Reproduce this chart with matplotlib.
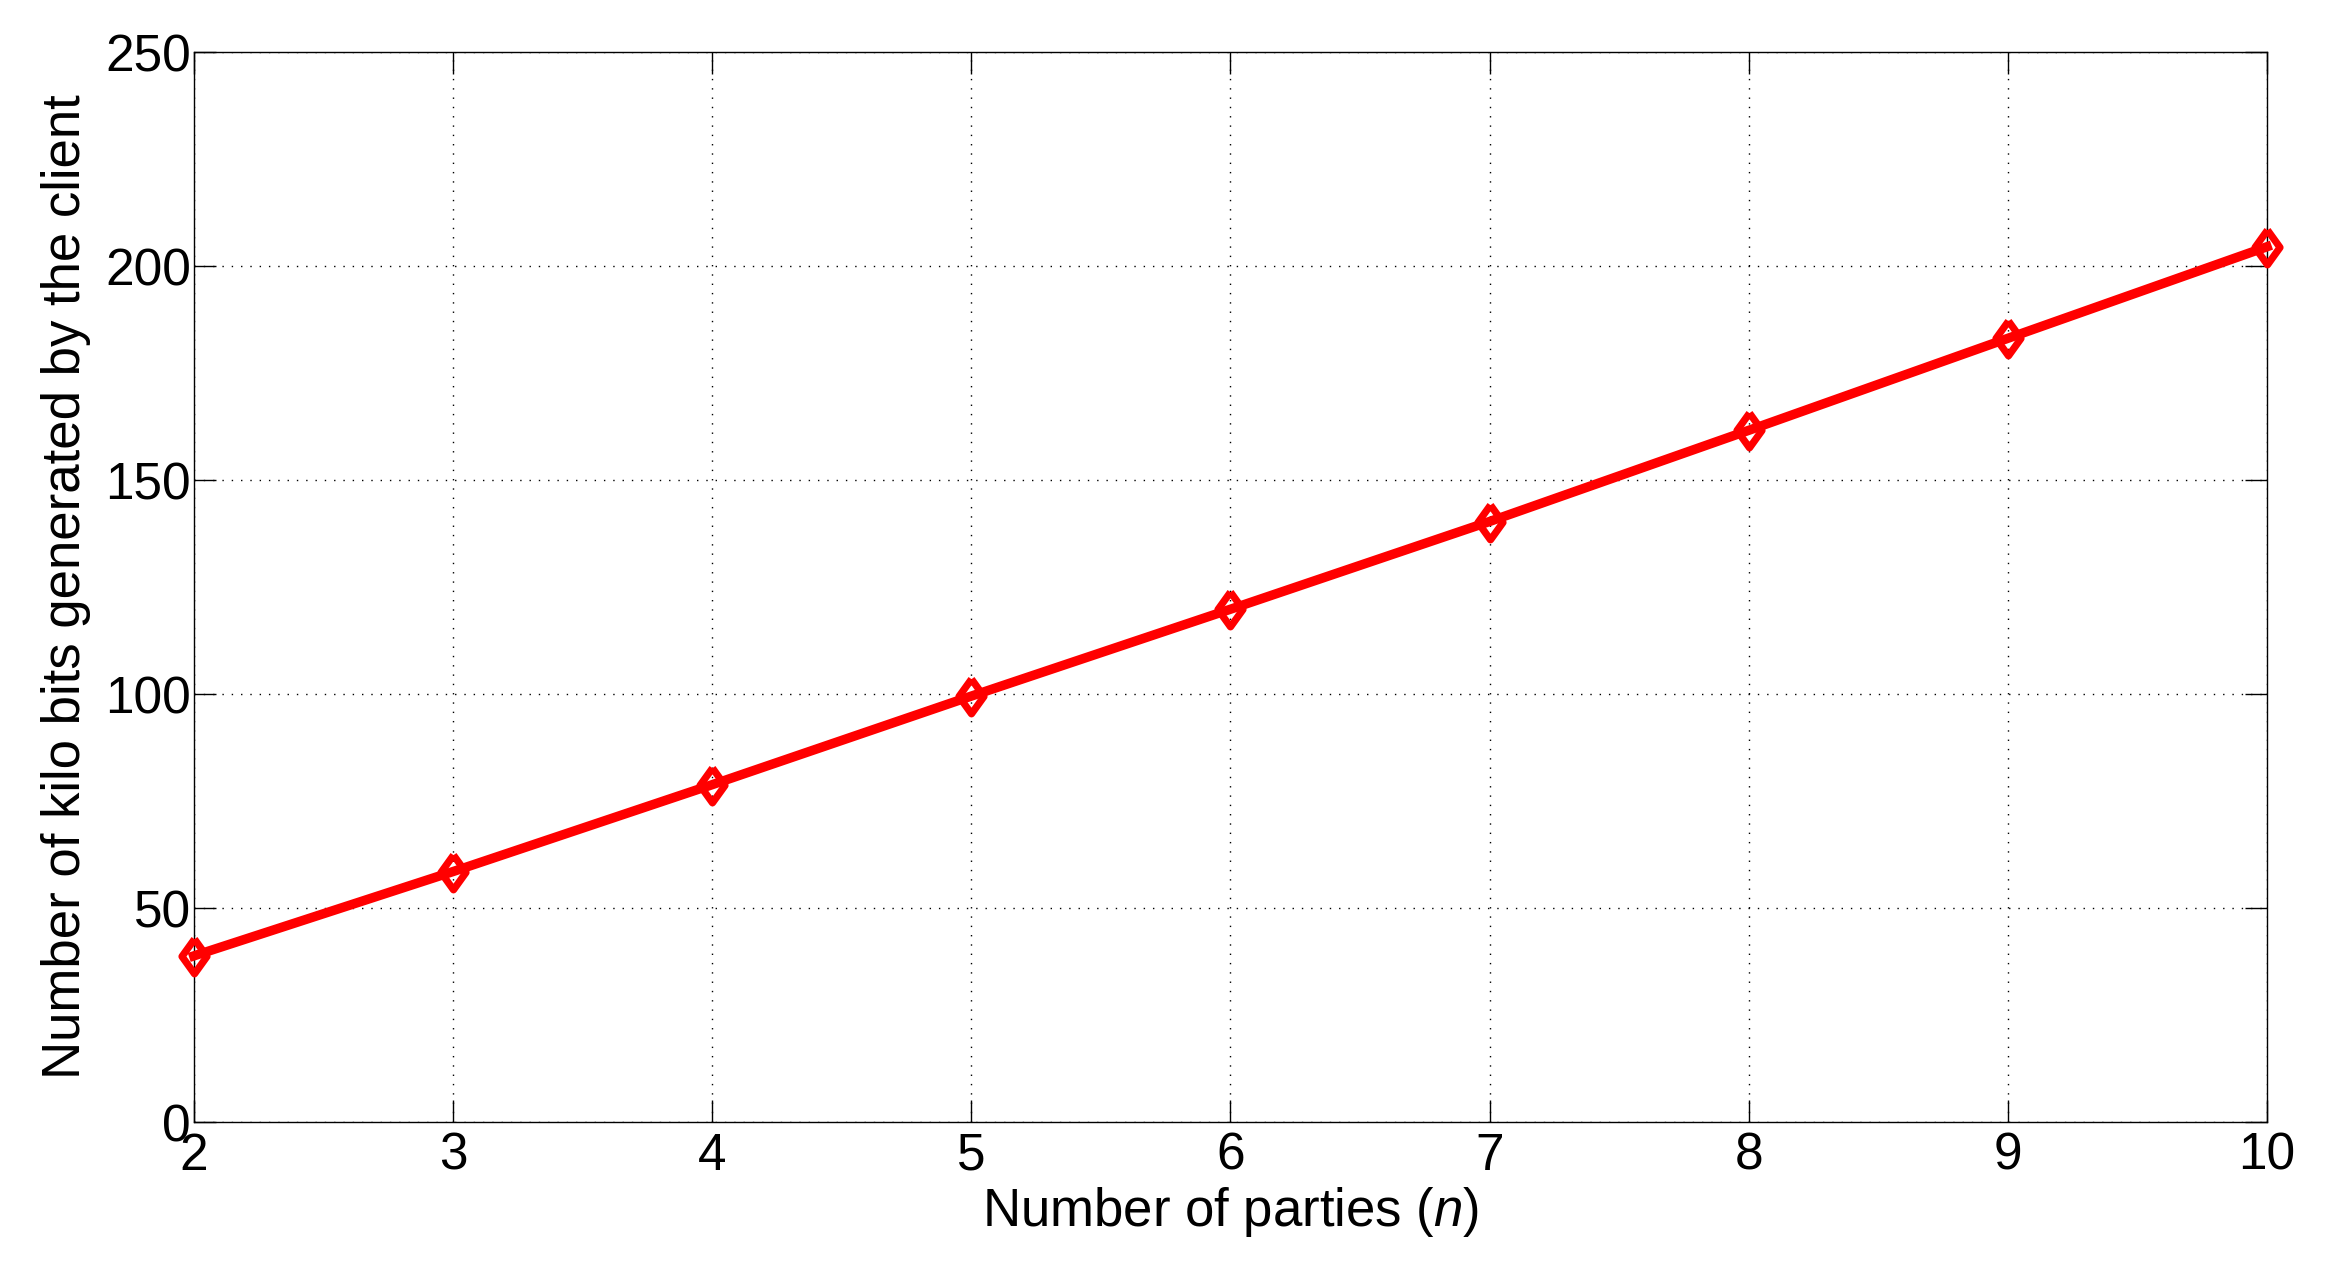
import numpy as np
import matplotlib.pyplot as plt

plt.rcParams['font.family'] = ['Liberation Sans', 'DejaVu Sans']
plt.rcParams['mathtext.fontset'] = 'custom'
plt.rcParams['mathtext.it'] = 'Liberation Sans:italic'
plt.rcParams['mathtext.rm'] = 'Liberation Sans'

# data
parties = [2, 3, 4, 5, 6, 7, 8, 9, 10]
kbits = [38.8, 58.5, 78.8, 99.5, 119.8, 140.3, 161.6, 183.1, 204.5]

# diamond a bit narrower than tall, like the matlab one
diamond = [(0, 1), (0.72, 0), (0, -1), (-0.72, 0), (0, 1)]

fig = plt.figure(figsize=(23.32, 12.66), dpi=100)
ax = fig.add_axes([193.7/2332, 1-1122/1266, (2267-193.7)/2332, (1122-52)/1266])

ax.plot(parties, kbits, color='red', lw=6.8, marker=diamond, markersize=25,
        markerfacecolor='none', markeredgecolor='red', mew=5.2, clip_on=False, zorder=5)

ax.set_xlim(2, 10)
ax.set_ylim(0, 250)
ax.set_xticks(range(2, 11))
ax.set_yticks(range(0, 251, 50))
ax.grid(True, color='black', linestyle=(0, (1, 5.7)), linewidth=1.0)
ax.tick_params(direction='in', length=16, width=1.0, top=True, right=True,
               labelsize=37)
ax.tick_params(axis='x', pad=7)
ax.tick_params(axis='y', pad=2)
for s in ax.spines.values():
    s.set_linewidth(1.0)

ax.set_xlabel('Number of parties ($n$)', fontsize=38, labelpad=3)
ax.set_ylabel('Number of kilo bits generated by the client', fontsize=38)
ax.yaxis.set_label_coords(-0.0495, 0.5)

fig.savefig('out.png', dpi=100)
